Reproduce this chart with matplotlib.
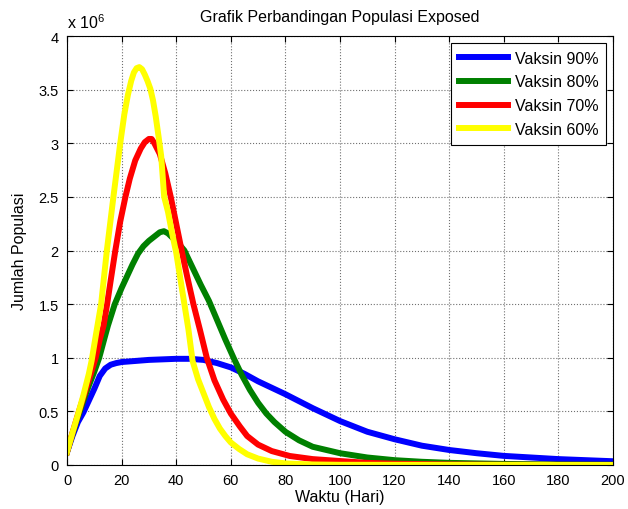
import numpy as np
import matplotlib
matplotlib.use('Agg')
import matplotlib.pyplot as plt
from matplotlib import ticker

plt.rcParams['font.family'] = ['Liberation Sans', 'DejaVu Sans']
plt.rcParams['mathtext.fontset'] = 'custom'
plt.rcParams['mathtext.rm'] = 'Liberation Sans'
plt.rcParams['mathtext.it'] = 'Liberation Sans:italic'

# ------------------- data (populasi) -------------------
hari_90 = [0, 2, 4, 6, 8, 10, 12, 14, 16, 18, 20, 25, 30, 35, 40, 45, 50, 55,
           60, 65, 70, 75, 80, 90, 100, 110, 120, 130, 140, 150, 160, 170,
           180, 190, 200]
pop_90 = [0.12, 0.27, 0.40, 0.49, 0.60, 0.71, 0.83, 0.90, 0.935, 0.95, 0.96,
          0.97, 0.98, 0.985, 0.99, 0.99, 0.98, 0.95, 0.91, 0.85, 0.78, 0.72,
          0.66, 0.53, 0.41, 0.31, 0.24, 0.18, 0.14, 0.11, 0.085, 0.07, 0.055,
          0.045, 0.035]

hari_80 = [0, 2, 4, 6, 8, 10, 11.8, 13.6, 15, 17.5, 20, 22, 24, 26, 28, 30,
           32, 34, 35.5, 37, 39, 41, 43, 46, 49, 52, 55, 58, 61, 64, 67, 70,
           73, 76, 80, 85, 90, 95, 100, 110, 120, 130, 140, 160, 180, 200]
pop_80 = [0.12, 0.29, 0.45, 0.60, 0.74, 0.87, 1.0, 1.17, 1.3, 1.5, 1.65,
          1.76, 1.87, 1.97, 2.04, 2.09, 2.13, 2.17, 2.18, 2.16, 2.11, 2.06,
          2.0, 1.84, 1.68, 1.53, 1.35, 1.17, 1.0, 0.84, 0.70, 0.58, 0.48,
          0.40, 0.31, 0.23, 0.17, 0.14, 0.11, 0.07, 0.045, 0.03, 0.02, 0.01,
          0.005, 0.003]

hari_70 = [0, 2, 4, 6, 8, 10.5, 12, 13.4, 14.7, 16, 17.7, 19.5, 21.4, 23, 25,
           27, 28.5, 30, 31, 32, 34, 36, 38, 40, 42, 44, 46.3, 48.7, 51.2, 54,
           57.2, 60, 63.3, 66, 70, 75, 81.6, 90, 100, 110, 120, 140, 160, 200]
pop_70 = [0.12, 0.30, 0.47, 0.63, 0.79, 1.0, 1.17, 1.3, 1.5, 1.72, 2.0, 2.27,
          2.5, 2.67, 2.84, 2.95, 3.01, 3.04, 3.04, 3.0, 2.9, 2.72, 2.5, 2.25,
          2.0, 1.76, 1.5, 1.26, 1.0, 0.79, 0.61, 0.48, 0.36, 0.27, 0.19, 0.13,
          0.084, 0.055, 0.037, 0.02, 0.012, 0.005, 0.002, 0.001]

hari_60 = [0, 2, 4, 6, 8, 9, 10.5, 12.5, 14.6, 17, 19.5, 21, 22.3, 23.5, 24.5,
           25.5, 26.5, 27.5, 28.5, 29.5, 30.5, 31.5, 32.5, 33.5, 34.5, 35.6,
           37, 38.5, 40, 41.5, 43, 44.5, 46, 48, 50, 52, 54, 56, 58, 60, 63,
           66, 70, 75, 80, 90, 100, 200]
pop_60 = [0.12, 0.30, 0.47, 0.65, 0.85, 0.97, 1.2, 1.5, 2.0, 2.5, 3.0, 3.27,
          3.45, 3.58, 3.66, 3.70, 3.71, 3.69, 3.64, 3.58, 3.51, 3.40, 3.25,
          3.07, 2.88, 2.5, 2.36, 2.16, 1.98, 1.74, 1.50, 1.26, 0.97, 0.80,
          0.67, 0.54, 0.43, 0.34, 0.27, 0.21, 0.15, 0.10, 0.06, 0.03, 0.015,
          0.005, 0.002, 0.0]

series = [(hari_90, pop_90, 'Vaksin 90%', (0, 0, 1)),
          (hari_80, pop_80, 'Vaksin 80%', (0, 0.5, 0)),
          (hari_70, pop_70, 'Vaksin 70%', (1, 0, 0)),
          (hari_60, pop_60, 'Vaksin 60%', (1, 1, 0))]

axis_font = {'size': 11.5}

fig = plt.figure(figsize=(6.28, 5.10), dpi=100)
ax = fig.add_axes([67 / 628, 1 - 466 / 510, 546 / 628, 429 / 510])

for hari, pop, lab, col in series:
    ax.plot(hari, np.array(pop) * 1e6, color=col, linewidth=4.3,
            solid_joinstyle='round', label=lab)

ax.set_xlim(0, 200)
ax.set_ylim(0, 4e6)
ax.set_xticks(np.arange(0, 201, 20))
ax.set_yticks(np.arange(0, 4.01e6, 0.5e6))
ax.yaxis.set_major_formatter(ticker.FuncFormatter(lambda v, p: '%g' % (v / 1e6)))
ax.tick_params(direction='in', top=True, right=True, length=4, width=0.8,
               labelsize=10.5, pad=6)
ax.grid(True, linestyle=':', color='#707070', linewidth=0.8)
for s in ax.spines.values():
    s.set_linewidth(0.8)

ax.text(0, 1.012, r'x 10$^6$', transform=ax.transAxes, ha='left', va='bottom',
        **axis_font)
ax.set_title('Grafik Perbandingan Populasi Exposed', pad=11, **axis_font)
ax.set_xlabel('Waktu (Hari)', labelpad=1, **axis_font)
ax.set_ylabel('Jumlah Populasi', labelpad=8, **axis_font)

leg = ax.legend(loc='upper right', fontsize=11.5, fancybox=False, framealpha=1,
                edgecolor='k', handlelength=3.1, handletextpad=0.4,
                borderpad=0.5, labelspacing=0.55, borderaxespad=0.42)
leg.get_frame().set_linewidth(0.8)

fig.savefig('out.png', dpi=100)
